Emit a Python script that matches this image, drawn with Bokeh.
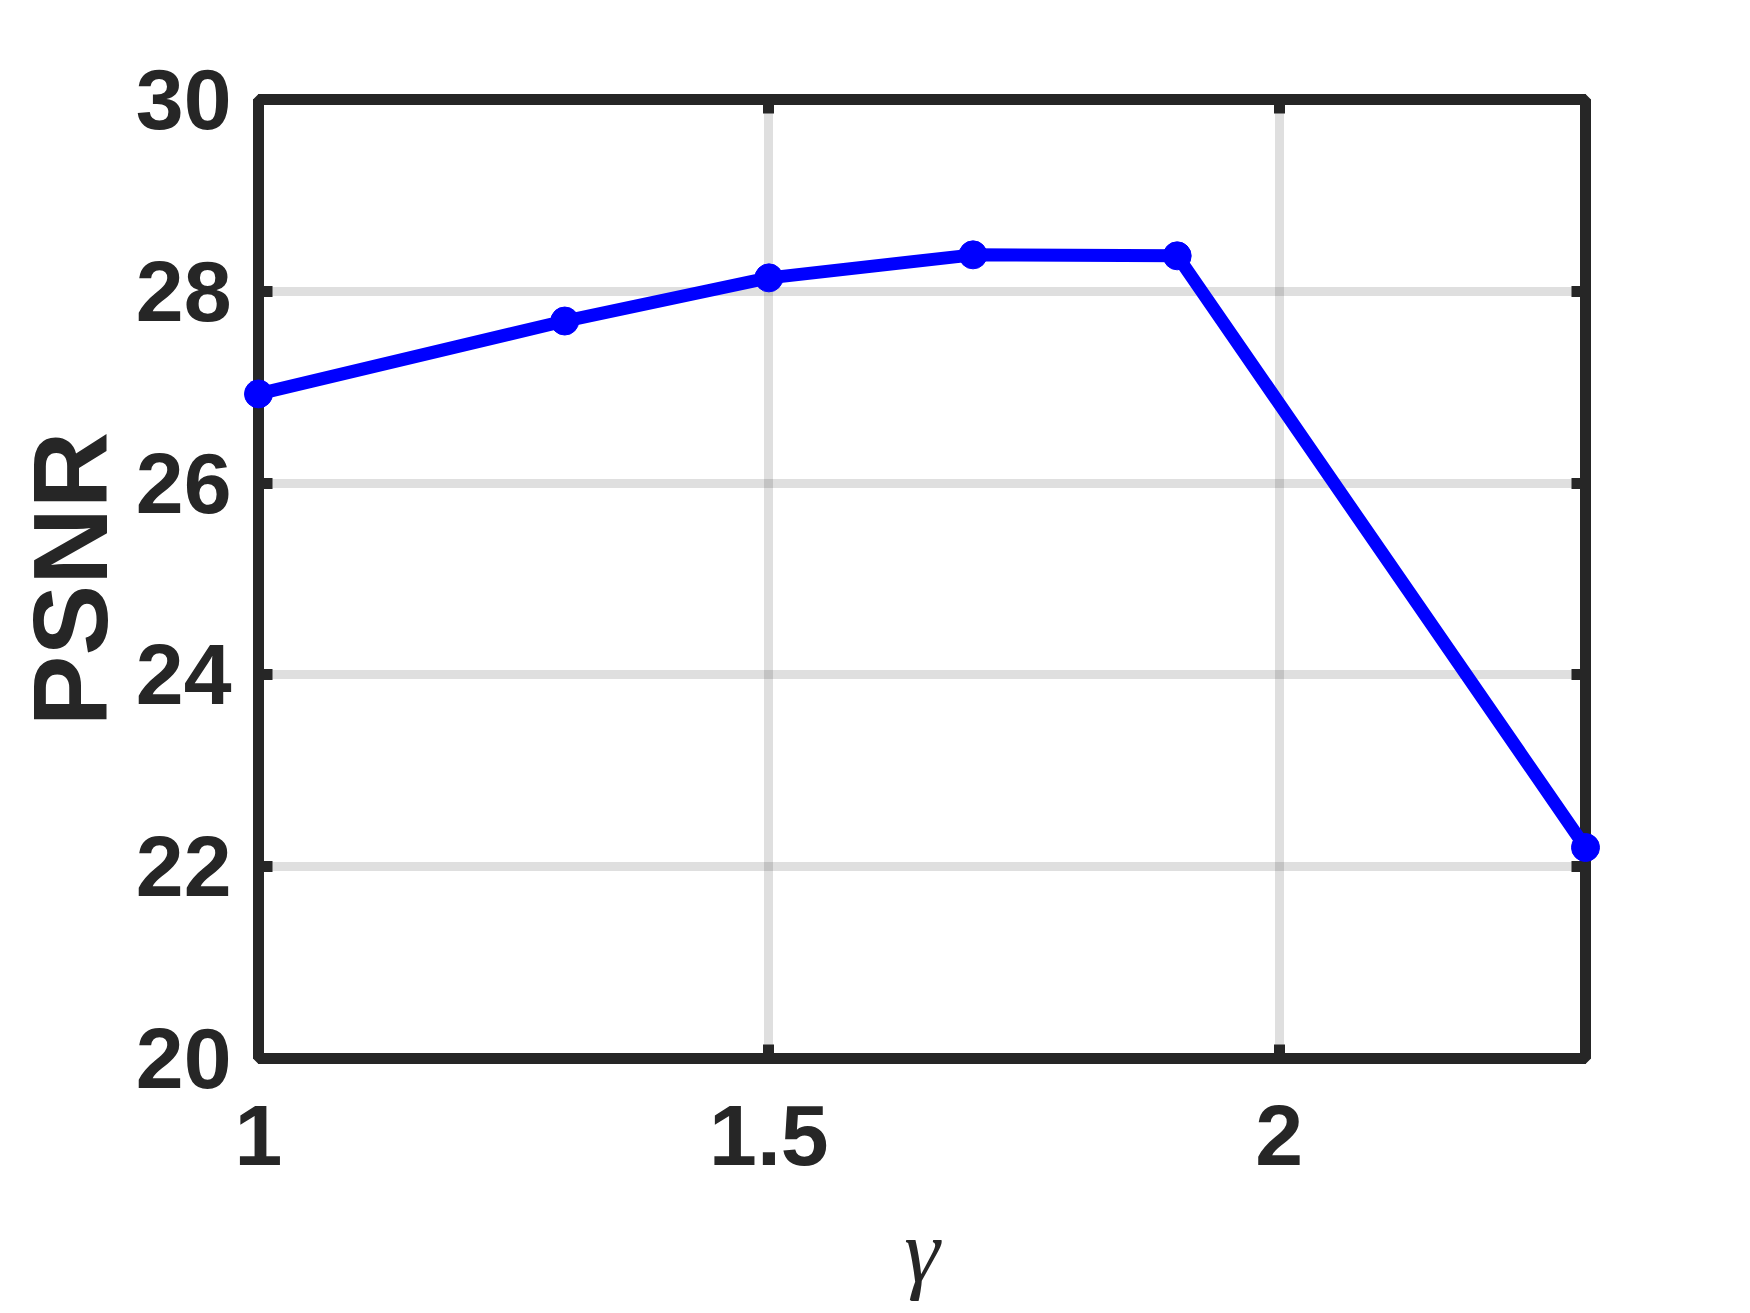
from bokeh.plotting import figure
from bokeh.models import Range1d, FixedTicker, LinearAxis
from bokeh.embed import file_html
from bokeh.resources import INLINE

# data
gamma = [1.0, 1.3, 1.5, 1.7, 1.9, 2.3]
psnr = [26.93, 27.69, 28.14, 28.38, 28.37, 22.20]

x_ticks = [1, 1.5, 2]
x_tick_labels = ["1", "1.5", "2"]
y_ticks = [20, 22, 24, 26, 28, 30]
y_tick_labels = ["20", "22", "24", "26", "28", "30"]

DARK = "#262626"
LW = 11

p = figure(width=1734, height=1313, output_backend="svg", toolbar_location=None,
           x_range=Range1d(1, 2.3), y_range=Range1d(20, 30),
           min_border_left=258, min_border_right=149, min_border_top=99, min_border_bottom=255)

p.background_fill_color = "white"
p.border_fill_color = "white"
p.outline_line_color = DARK
p.outline_line_width = LW

xo = {t: l for t, l in zip(x_ticks, x_tick_labels)}
yo = {t: l for t, l in zip(y_ticks, y_tick_labels)}

for ax in p.xaxis:
    ax.ticker = FixedTicker(ticks=x_ticks)
    ax.major_label_overrides = xo
    ax.major_label_standoff = 47
    ax.axis_label = "γ"
    ax.axis_label_text_font = "Liberation Serif"
    ax.axis_label_text_font_style = "italic"
    ax.axis_label_text_font_size = "90px"
    ax.axis_label_text_color = DARK
    ax.axis_label_standoff = 34
for ax in p.yaxis:
    ax.ticker = FixedTicker(ticks=y_ticks)
    ax.major_label_overrides = yo
    ax.major_label_standoff = 27
    ax.axis_label = "PSNR"
    ax.axis_label_text_font = "Liberation Sans"
    ax.axis_label_text_font_style = "bold"
    ax.axis_label_text_font_size = "106px"
    ax.axis_label_text_color = DARK
    ax.axis_label_standoff = 4

for ax in list(p.xaxis) + list(p.yaxis):
    ax.major_label_text_font = "Liberation Sans"
    ax.major_label_text_font_style = "bold"
    ax.major_label_text_font_size = "86px"
    ax.major_label_text_color = DARK

# mirror axes (ticks only) on top and right
top = LinearAxis(ticker=FixedTicker(ticks=x_ticks),
                 major_label_overrides={t: "" for t in x_ticks}, major_label_standoff=0)
right = LinearAxis(ticker=FixedTicker(ticks=y_ticks),
                   major_label_overrides={t: "" for t in y_ticks}, major_label_standoff=0)
p.add_layout(top, "above")
p.add_layout(right, "right")

for ax in list(p.xaxis) + list(p.yaxis):
    ax.axis_line_color = DARK
    ax.axis_line_width = LW
    ax.major_tick_line_color = DARK
    ax.major_tick_line_width = LW
    ax.major_tick_in = 14
    ax.major_tick_out = 0
    ax.minor_tick_line_color = None

for g in list(p.xgrid) + list(p.ygrid):
    g.grid_line_color = DARK
    g.grid_line_alpha = 0.15
    g.grid_line_width = 9
p.xgrid.ticker = FixedTicker(ticks=x_ticks)
p.ygrid.ticker = FixedTicker(ticks=y_ticks)

p.line(gamma, psnr, line_color="#0000ff", line_width=13, level="overlay")
p.scatter(gamma, psnr, marker="circle", size=28, fill_color="#0000ff", line_color="#0000ff",
          level="overlay")

open("out.html", "w").write(file_html(p, INLINE))
